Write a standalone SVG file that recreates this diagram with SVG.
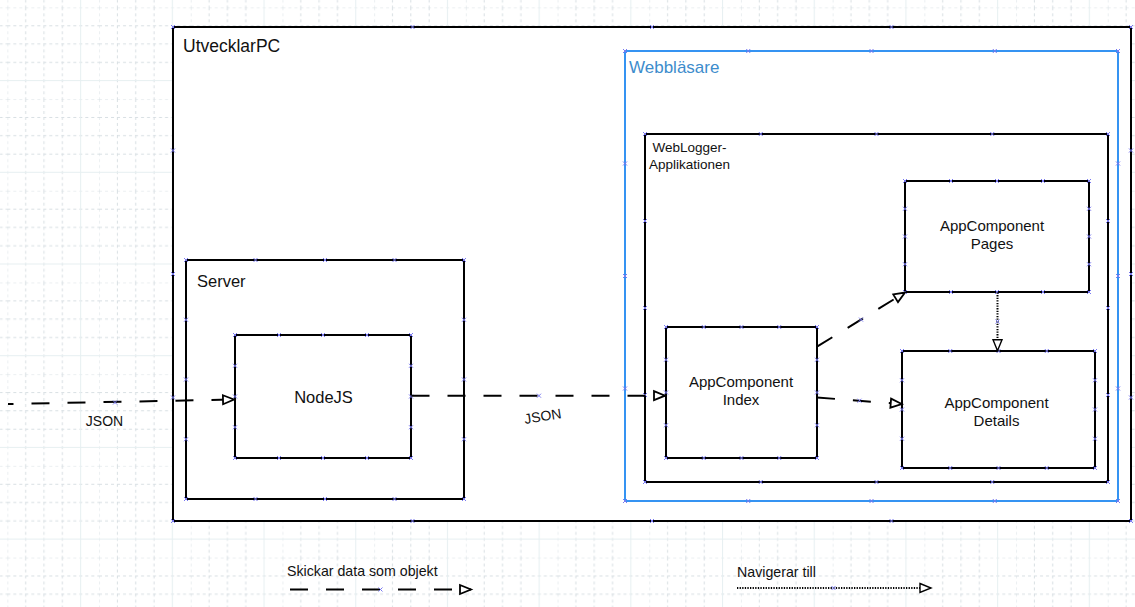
<svg xmlns="http://www.w3.org/2000/svg" width="1135" height="607" viewBox="0 0 1135 607">
<style>
  .box{fill:#fff;stroke:#000;stroke-width:2}
  .blue{fill:#fff;stroke:#3593f2;stroke-width:2}
  .t{font-family:"Liberation Sans",Arial,sans-serif;fill:#111}
  .pts{fill:none;stroke:none;marker-start:url(#xm);marker-mid:url(#xm);marker-end:url(#xm)}
  .dash{fill:none;stroke:#000;stroke-width:2;stroke-dasharray:18 18;marker-end:url(#arr)}
  .dot{fill:none;stroke:#000;stroke-width:2;stroke-dasharray:1.3 1.3;marker-end:url(#arr2)}
</style>
<defs>
  <pattern id="grid" patternUnits="userSpaceOnUse" x="7.34" y="7.34" width="91.7" height="91.7">
    <path d="M0 0V91.7M18.34 0V91.7M36.68 0V91.7M55.02 0V91.7M0 0H91.7M0 18.34H91.7M0 36.68H91.7M0 55.02H91.7" fill="none" stroke="#d8dfe3" stroke-width="1" stroke-dasharray="3 3"/>
    <path d="M73.36 0V91.7M0 73.36H91.7" fill="none" stroke="#e6eff1" stroke-width="1"/>
  </pattern>
  <marker id="xm" markerUnits="userSpaceOnUse" markerWidth="6" markerHeight="6" refX="3" refY="3" orient="0" overflow="visible">
    <path d="M1 1L5 5M5 1L1 5" stroke="#7a7af0" stroke-width="1" fill="none"/>
  </marker>
  <marker id="arr" markerUnits="userSpaceOnUse" markerWidth="16" markerHeight="14" refX="12" refY="6" orient="auto" overflow="visible">
    <path d="M1 1.5L12 6L1 10.5Z" fill="#fff" stroke="#000" stroke-width="1.8" stroke-dasharray="none"/>
  </marker>
  <marker id="arr2" markerUnits="userSpaceOnUse" markerWidth="16" markerHeight="14" refX="12" refY="6" orient="auto" overflow="visible">
    <path d="M1 1.5L12 6L1 10.5Z" fill="#fff" stroke="#000" stroke-width="1.4" stroke-dasharray="none"/>
  </marker>
</defs>

<rect x="0" y="0" width="1135" height="607" fill="#fff"/>
<rect x="0" y="0" width="1135" height="607" fill="url(#grid)"/>

<g id="utvecklarpc">
  <rect class="box" x="173" y="27" width="958" height="494"/>
  <text class="t" x="183" y="52" font-size="17.5">UtvecklarPC</text>
  <path class="pts" d="M173 27H412.5H652H891.5H1131V150.5V274V397.5V521H891.5H652H412.5H173V397.5V274V150.5Z"/>
</g>

<g id="server">
  <rect class="box" x="186" y="260" width="278" height="239"/>
  <text class="t" x="197" y="286.5" font-size="16.5">Server</text>
  <path class="pts" d="M186 260H255.5H325H394.5H464V319.75V379.5V439.25V499H394.5H325H255.5H186V439.25V379.5V319.75Z"/>
</g>

<g id="nodejs">
  <rect class="box" x="235" y="335" width="176" height="123"/>
  <text class="t" x="323.5" y="403" font-size="16.5" text-anchor="middle">NodeJS</text>
  <path class="pts" d="M235 335H279H323H367H411V365.75V396.5V427.25V458H367H323H279H235V427.25V396.5V365.75Z"/>
</g>

<g id="webblasare">
  <rect class="blue" x="625" y="51" width="493" height="450"/>
  <text x="629" y="73" font-size="17" font-family="Liberation Sans, Arial, sans-serif" fill="#3d8ccc">Webbläsare</text>
  <path class="pts" d="M625 51H748.25H871.5H994.75H1118V163.5V276V388.5V501H994.75H871.5H748.25H625V388.5V276V163.5Z"/>
</g>

<g id="weblogger">
  <rect class="box" x="645" y="134" width="463" height="348"/>
  <text class="t" font-size="13.5" text-anchor="middle"><tspan x="689.5" y="151.5">WebLogger-</tspan><tspan x="689.5" y="168.5">Applikationen</tspan></text>
  <path class="pts" d="M645 134H760.75H876.5H992.25H1108V221V308V395V482H992.25H876.5H760.75H645V395V308V221Z"/>
</g>

<g id="index">
  <rect class="box" x="666" y="327" width="151" height="131"/>
  <text class="t" font-size="15" text-anchor="middle"><tspan x="741" y="387">AppComponent</tspan><tspan x="741" y="405">Index</tspan></text>
  <path class="pts" d="M666 327H703.75H741.5H779.25H817V359.75V392.5V425.25V458H779.25H741.5H703.75H666V425.25V392.5V359.75Z"/>
</g>

<g id="pages">
  <rect class="box" x="905" y="181" width="184" height="111"/>
  <text class="t" font-size="15" text-anchor="middle"><tspan x="992" y="231">AppComponent</tspan><tspan x="992" y="249">Pages</tspan></text>
  <path class="pts" d="M905 181H951H997H1043H1089V208.75V236.5V264.25V292H1043H997H951H905V264.25V236.5V208.75Z"/>
</g>

<g id="details">
  <rect class="box" x="902" y="351" width="193" height="117"/>
  <text class="t" font-size="15" text-anchor="middle"><tspan x="996.5" y="408">AppComponent</tspan><tspan x="996.5" y="426">Details</tspan></text>
  <path class="pts" d="M902 351H950.25H998.5H1046.75H1095V380.25V409.5V438.75V468H1046.75H998.5H950.25H902V438.75V409.5V380.25Z"/>
</g>

<g id="connectors">
  <path class="dash" d="M8 404L234 399.5" stroke-dashoffset="12.5"/>
  <path class="dash" d="M411.5 395.7L665 395.7"/>
  <path class="dash" d="M817 346.7L905 292.5"/>
  <path class="dash" d="M817 397.5L901.7 404"/>
  <path class="dot" d="M997.5 292.5L997.5 350.7"/>
  <text class="t" x="104.5" y="426" font-size="14" text-anchor="middle">JSON</text>
  <text class="t" x="0" y="0" font-size="14" text-anchor="middle" transform="translate(543.5 421) rotate(-9)">JSON</text>
  <polyline class="pts" points="115,402.5 539,395.7 861,319.6 859.5,400.7 997.5,321.5"/>
</g>

<g id="legend">
  <text class="t" x="287" y="576" font-size="14.2">Skickar data som objekt</text>
  <path class="dash" d="M290 589.5L471 589.5" stroke-dasharray="17 19.5"/>
  <text class="t" x="737" y="577" font-size="14.2">Navigerar till</text>
  <path class="dot" d="M737 588L931 588"/>
  <polyline class="pts" points="380.5,589.5 833.5,588"/>
</g>
</svg>
